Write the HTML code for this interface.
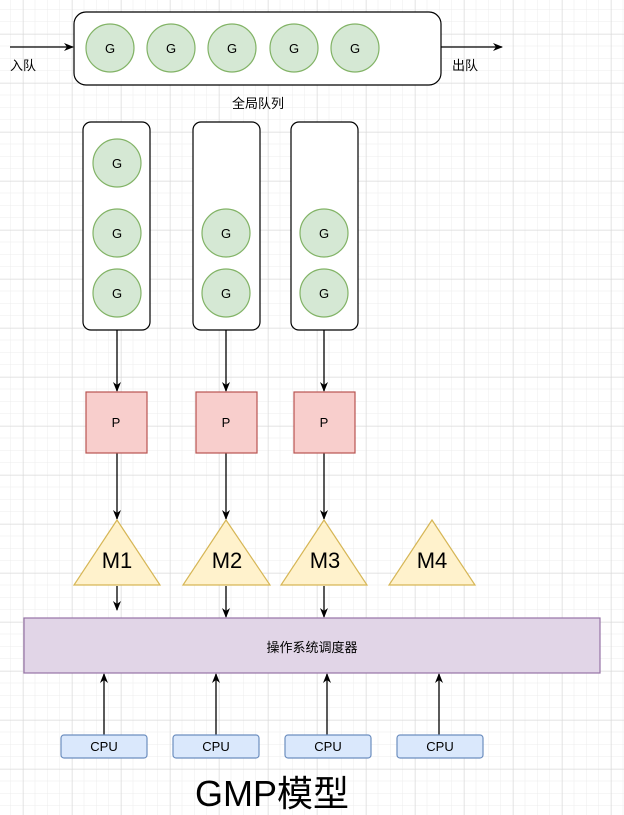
<!DOCTYPE html>
<html><head><meta charset="utf-8"><style>
html,body{margin:0;padding:0;background:#fff}
svg{display:block}
text{font-family:"Liberation Sans","Noto Sans CJK SC",sans-serif;fill:#000}
</style></head><body>
<svg width="624" height="815" viewBox="0 0 624 815" xmlns="http://www.w3.org/2000/svg">
<defs>
<pattern id="minor" x="10.75" y="9.5" width="12.25" height="12.25" patternUnits="userSpaceOnUse">
<path d="M12.25 0V12.25M0 12.25H12.25" fill="none" stroke="#ececec" stroke-width="1"/>
</pattern>
<pattern id="major" x="72" y="524" width="49" height="49" patternUnits="userSpaceOnUse">
<path d="M0 0V49M0 0H49" fill="none" stroke="#d8d8d8" stroke-width="1"/>
</pattern>
<marker id="ar" markerWidth="10" markerHeight="10" refX="9" refY="5" orient="auto" markerUnits="userSpaceOnUse">
<path d="M0 1L10 5L0 9L3 5Z" fill="#000"/>
</marker>
</defs>
<rect width="624" height="815" fill="url(#minor)"/>
<rect width="624" height="815" fill="url(#major)"/>

<g stroke="#000" stroke-width="1.3" fill="none">
<line x1="10" y1="47" x2="73" y2="47" marker-end="url(#ar)"/>
<line x1="441" y1="47" x2="502" y2="47" marker-end="url(#ar)"/>
<line x1="117" y1="330" x2="117" y2="391" marker-end="url(#ar)"/>
<line x1="226" y1="330" x2="226" y2="391" marker-end="url(#ar)"/>
<line x1="324" y1="330" x2="324" y2="391" marker-end="url(#ar)"/>
<line x1="117" y1="453" x2="117" y2="519" marker-end="url(#ar)"/>
<line x1="226" y1="453" x2="226" y2="519" marker-end="url(#ar)"/>
<line x1="324" y1="453" x2="324" y2="519" marker-end="url(#ar)"/>
<line x1="117" y1="586" x2="117" y2="610" marker-end="url(#ar)"/>
<line x1="226" y1="586" x2="226" y2="617" marker-end="url(#ar)"/>
<line x1="324" y1="586" x2="324" y2="617" marker-end="url(#ar)"/>
<line x1="104" y1="735" x2="104" y2="674" marker-end="url(#ar)"/>
<line x1="216" y1="735" x2="216" y2="674" marker-end="url(#ar)"/>
<line x1="327" y1="735" x2="327" y2="674" marker-end="url(#ar)"/>
<line x1="439" y1="735" x2="439" y2="674" marker-end="url(#ar)"/>
</g>

<rect x="74" y="12" width="367" height="73" rx="12" fill="#fff" stroke="#000" stroke-width="1.2"/>
<rect x="83" y="122" width="67" height="208" rx="8" fill="#fff" stroke="#000" stroke-width="1.2"/>
<rect x="193" y="122" width="67" height="208" rx="8" fill="#fff" stroke="#000" stroke-width="1.2"/>
<rect x="291" y="122" width="67" height="208" rx="8" fill="#fff" stroke="#000" stroke-width="1.2"/>

<g fill="#d5e8d4" stroke="#82b366" stroke-width="1.2">
<circle cx="110" cy="48" r="24"/><circle cx="171" cy="48" r="24"/><circle cx="232" cy="48" r="24"/><circle cx="294" cy="48" r="24"/><circle cx="355" cy="48" r="24"/>
<circle cx="117" cy="163" r="24"/><circle cx="117" cy="233" r="24"/><circle cx="117" cy="293" r="24"/>
<circle cx="226" cy="233" r="24"/><circle cx="226" cy="293" r="24"/>
<circle cx="324" cy="233" r="24"/><circle cx="324" cy="293" r="24"/>
</g>
<g font-size="13" text-anchor="middle">
<text x="110" y="53">G</text><text x="171" y="53">G</text><text x="232" y="53">G</text><text x="294" y="53">G</text><text x="355" y="53">G</text>
<text x="117" y="168">G</text><text x="117" y="238">G</text><text x="117" y="298">G</text>
<text x="226" y="238">G</text><text x="226" y="298">G</text>
<text x="324" y="238">G</text><text x="324" y="298">G</text>
</g>
<text x="10" y="70" font-size="13">入队</text>
<text x="452" y="70" font-size="13">出队</text>
<text x="258" y="108" font-size="13" text-anchor="middle">全局队列</text>

<g fill="#f8cecc" stroke="#b85450" stroke-width="1.2">
<rect x="86" y="392" width="61" height="61"/><rect x="196" y="392" width="61" height="61"/><rect x="294" y="392" width="61" height="61"/>
</g>
<g font-size="13" text-anchor="middle">
<text x="116" y="427">P</text><text x="226" y="427">P</text><text x="324" y="427">P</text>
</g>

<g fill="#fff2cc" stroke="#d6b656" stroke-width="1.2">
<polygon points="117,520 160,585 74,585"/>
<polygon points="226,520 270,585 183,585"/>
<polygon points="324,520 367,585 281,585"/>
<polygon points="432,520 475,585 389,585"/>
</g>
<g font-size="22" text-anchor="middle">
<text x="117" y="568">M1</text><text x="227" y="568">M2</text><text x="325" y="568">M3</text><text x="432" y="568">M4</text>
</g>

<rect x="24" y="618" width="576" height="55" fill="#e1d5e7" stroke="#9673a6" stroke-width="1.2"/>
<text x="312" y="652" font-size="13" text-anchor="middle">操作系统调度器</text>

<g fill="#dae8fc" stroke="#6c8ebf" stroke-width="1.2">
<rect x="61" y="735" width="86" height="23" rx="3"/><rect x="173" y="735" width="86" height="23" rx="3"/><rect x="285" y="735" width="86" height="23" rx="3"/><rect x="397" y="735" width="86" height="23" rx="3"/>
</g>
<g font-size="13" text-anchor="middle">
<text x="104" y="751">CPU</text><text x="216" y="751">CPU</text><text x="328" y="751">CPU</text><text x="440" y="751">CPU</text>
</g>
<text x="272" y="806" font-size="36" text-anchor="middle">GMP模型</text>
</svg>
</body></html>
